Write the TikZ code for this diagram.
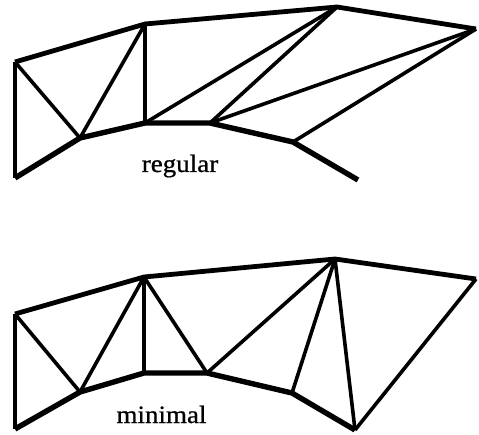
\documentclass[tikz,border=0pt]{standalone}
\usepackage{fontspec}
\setmainfont{Liberation Serif}
\newfontfamily\lblfont[FakeBold=0.8]{Liberation Serif}
\tikzset{
  outer/.style={line width=4.8pt, line join=round},
  bottomb/.style={line width=5.4pt, line join=round},
  inner/.style={line width=3.6pt},
  lbl/.style={anchor=base, inner sep=0pt, font=\lblfont\fontsize{25}{28}\selectfont}
}
\begin{document}
\begin{tikzpicture}[x=1pt,y=-1pt]
\useasboundingbox (0,0) rectangle (479,435);
% regular
\coordinate (A) at (15,62);
\coordinate (B) at (15,178);
\coordinate (C) at (145,24);
\coordinate (D) at (80,138);
\coordinate (E) at (145,123);
\coordinate (F) at (210,123);
\coordinate (G) at (337,7);
\coordinate (H) at (476,29);
\coordinate (I) at (293,142);
\coordinate (J) at (358,180);
\draw[outer] (A) -- (C) -- (G) -- (H);
\draw[bottomb] (B) -- (D) -- (E) -- (F) -- (I) -- (J);
\draw[inner] (A) -- (B);
\draw[inner] (A) -- (D);
\draw[inner] (D) -- (C);
\draw[inner] (C) -- (E);
\draw[inner] (E) -- (G);
\draw[inner] (F) -- (G);
\draw[inner] (F) -- (H);
\draw[inner] (I) -- (H);
\node[lbl] (reg) at (180,172) {\scalebox{1.08}[1]{regular}};
% minimal
\coordinate (A2) at (15,314);
\coordinate (B2) at (15,429);
\coordinate (C2) at (144,277);
\coordinate (D2) at (80,392);
\coordinate (E2) at (144,373);
\coordinate (F2) at (207,373);
\coordinate (G2) at (335,259);
\coordinate (H2) at (476,279);
\coordinate (I2) at (292,393);
\coordinate (J2) at (355,430);
\draw[outer] (A2) -- (C2) -- (G2) -- (H2);
\draw[bottomb] (B2) -- (D2) -- (E2) -- (F2) -- (I2) -- (J2);
\draw[inner] (A2) -- (B2);
\draw[inner] (A2) -- (D2);
\draw[inner] (D2) -- (C2);
\draw[inner] (C2) -- (E2);
\draw[inner] (C2) -- (F2);
\draw[inner] (F2) -- (G2);
\draw[inner] (I2) -- (G2);
\draw[inner] (J2) -- (G2);
\draw[inner] (J2) -- (H2);
\node[lbl] (mini) at (161.5,423) {\scalebox{1.08}[1]{minimal}};
\end{tikzpicture}
\end{document}
